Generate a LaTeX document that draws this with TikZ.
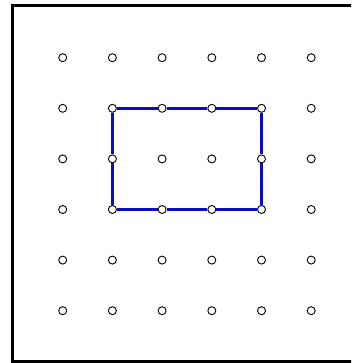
\documentclass[tikz,border=0pt]{standalone}
\usetikzlibrary{positioning}
\definecolor{Rim}{HTML}{0A0AC8}

\begin{document}
\begin{tikzpicture}[x=1pt,y=-1pt,
    dot/.style={circle,draw=black,fill=white,line width=0.9pt,
      minimum size=8pt,inner sep=0pt},
    edge/.style={draw=Rim,line width=2.6pt}
  ]
    \clip (0,0) rectangle (351,363);
    % frame, open to the right
    \draw[line width=3pt] (360,5.5) -- (12.5,5.5) -- (12.5,361) -- (360,361);
    % 6x6 grid of pins
    \foreach \i in {1,...,6}
      \foreach \j in {1,...,6}
        \node[dot] (p\i\j) at ({62.7+(\i-1)*49.7},{57.7+(\j-1)*50.6}) {};
    % the rectangle on the board
    \foreach \a/\b in {p22/p32,p32/p42,p42/p52,p52/p53,p53/p54,
                       p54/p44,p44/p34,p34/p24,p24/p23,p23/p22}
      \draw[edge] (\a)--(\b);
  \end{tikzpicture}
\end{document}
